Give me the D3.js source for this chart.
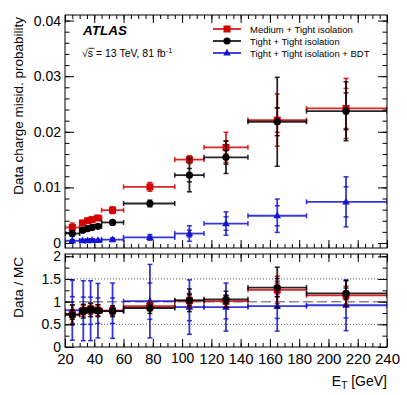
<!DOCTYPE html>
<html>
<head>
<meta charset="utf-8">
<script src="https://cdn.jsdelivr.net/npm/d3@7"></script>
<style>
  body { margin: 0; background: #fff; }
  svg { font-family: "Liberation Sans", Arial, sans-serif; display: block; }
</style>
</head>
<body>
<div id="chart"></div>
<script>
// ---- data ----
var mainEdges   = [20, 30, 34, 37, 40, 45, 60, 95, 115, 145, 185, 240];
var mainCenters = [25, 32, 35.5, 38.5, 42.5, 52.5, 78, 105, 130, 165, 212];

var medTight      = [0.0028, 0.0036, 0.0040, 0.0042, 0.0045, 0.0059, 0.0101, 0.0150, 0.0172, 0.0221, 0.0242];
var medTightStat  = [0.0004, 0.0002, 0.0002, 0.0002, 0.0002, 0.0003, 0.0004, 0.0004, 0.0012, 0.0022, 0.0036];
var medTightTot   = [0.0008, 0.0004, 0.0004, 0.0004, 0.0004, 0.0006, 0.0008, 0.0007, 0.0027, 0.0047, 0.0054];

var tightTight     = [0.0017, 0.0023, 0.0026, 0.0028, 0.0030, 0.0037, 0.0071, 0.0122, 0.0154, 0.0218, 0.0237];
var tightTightStat = [0.0002, 0.0001, 0.0001, 0.0001, 0.0001, 0.0002, 0.0003, 0.0012, 0.0012, 0.0025, 0.0033];
var tightTightTot  = [0.0005, 0.0003, 0.0003, 0.0003, 0.0003, 0.0004, 0.0006, 0.0030, 0.0029, 0.0080, 0.0053];

var tightBdt     = [0.0004, 0.0004, 0.0004, 0.00045, 0.00045, 0.0006, 0.0010, 0.0017, 0.0035, 0.0049, 0.0074];
var tightBdtStat = [0.0001, 0.0001, 0.0001, 0.0001, 0.0001, 0.0002, 0.0002, 0.0006, 0.0012, 0.0018, 0.0027];
var tightBdtTot  = [0.0002, 0.0002, 0.0002, 0.0002, 0.0002, 0.0003, 0.0005, 0.0014, 0.0021, 0.0030, 0.0045];

var ratioEdges   = [20, 30, 35, 40, 45, 60, 95, 115, 145, 185, 240];
var ratioCenters = [25, 32.5, 37.5, 42.5, 52.5, 78, 105, 130, 165, 212];

var ratioMed      = [0.72, 0.80, 0.84, 0.81, 0.80, 0.90, 1.02, 1.01, 1.26, 1.14];
var ratioMedStat  = [0.10, 0.07, 0.07, 0.07, 0.06, 0.06, 0.08, 0.07, 0.15, 0.10];
var ratioMedTot   = [0.20, 0.12, 0.12, 0.12, 0.10, 0.10, 0.15, 0.12, 0.30, 0.20];

var ratioTight     = [0.71, 0.79, 0.82, 0.80, 0.79, 0.86, 1.03, 1.05, 1.31, 1.18];
var ratioTightStat = [0.10, 0.07, 0.07, 0.06, 0.06, 0.06, 0.12, 0.09, 0.20, 0.12];
var ratioTightTot  = [0.22, 0.15, 0.15, 0.13, 0.12, 0.12, 0.25, 0.18, 0.45, 0.28];

var ratioBdt     = [0.81, 0.80, 0.80, 0.80, 0.80, 1.01, 0.88, 0.88, 0.90, 0.92];
var ratioBdtStat = [0.30, 0.30, 0.30, 0.28, 0.28, 0.40, 0.30, 0.26, 0.27, 0.28];
var ratioBdtTot  = [0.66, 0.66, 0.66, 0.60, 0.61, 0.81, 0.60, 0.53, 0.55, 0.56];

var legendLabels = ['Medium + Tight isolation', 'Tight + Tight isolation', 'Tight + Tight isolation + BDT'];

var RED = '#d40000', BLACK = '#000000', BLUE = '#1414d2';

// ---- layout ----
var W = 407, H = 395;
var left = 65, right = 387;
var mainTop = 15, mainBottom = 248;
var ratioTop = 254, ratioBottom = 347;

var svg = d3.select('#chart').append('svg')
    .attr('width', W)
    .attr('height', H);

var x = d3.scaleLinear().domain([20, 240]).range([left, right]);
var yMain = d3.scaleLinear().domain([-0.0009, 0.041]).range([mainBottom, mainTop]);
var yRatio = d3.scaleLinear().domain([0, 2.05]).range([ratioBottom, ratioTop]);

svg.append('clipPath').attr('id', 'clipMain').append('rect')
    .attr('x', left).attr('y', mainTop).attr('width', right - left).attr('height', mainBottom - mainTop);
svg.append('clipPath').attr('id', 'clipRatio').append('rect')
    .attr('x', left).attr('y', ratioTop).attr('width', right - left).attr('height', ratioBottom - ratioTop);

// inward ticks on all four sides, ROOT-like
function drawTicks(yScale, top, bottom, majorY, minorY, yFmt, xLabels) {
    var g = svg.append('g').attr('class', 'ticks');
    var xMaj = d3.range(20, 241, 20), xMin = d3.range(20, 241, 5);

    var bx = g.append('g').attr('transform', 'translate(0,' + bottom + ')')
        .call(d3.axisBottom(x).tickValues(xMaj).tickSize(-8).tickPadding(6)
            .tickFormat(xLabels ? d3.format('d') : ''));
    g.append('g').attr('transform', 'translate(0,' + bottom + ')')
        .call(d3.axisBottom(x).tickValues(xMin).tickSize(-4).tickFormat(''));
    g.append('g').attr('transform', 'translate(0,' + top + ')')
        .call(d3.axisTop(x).tickValues(xMaj).tickSize(-8).tickFormat(''));
    g.append('g').attr('transform', 'translate(0,' + top + ')')
        .call(d3.axisTop(x).tickValues(xMin).tickSize(-4).tickFormat(''));

    g.append('g').attr('transform', 'translate(' + left + ',0)')
        .call(d3.axisLeft(yScale).tickValues(majorY).tickSize(-9).tickPadding(4).tickFormat(yFmt));
    g.append('g').attr('transform', 'translate(' + left + ',0)')
        .call(d3.axisLeft(yScale).tickValues(minorY).tickSize(-4.5).tickFormat(''));
    g.append('g').attr('transform', 'translate(' + right + ',0)')
        .call(d3.axisRight(yScale).tickValues(majorY).tickSize(-9).tickFormat(''));
    g.append('g').attr('transform', 'translate(' + right + ',0)')
        .call(d3.axisRight(yScale).tickValues(minorY).tickSize(-4.5).tickFormat(''));

    g.selectAll('.domain').remove();
    g.selectAll('line').attr('stroke', '#000').attr('stroke-width', 1);
    g.selectAll('text').attr('fill', '#000').style('font-family', '"Liberation Sans", Arial, sans-serif');
    bx.selectAll('text').style('font-size', '15px');
    return g;
}

var mainT = drawTicks(yMain, mainTop, mainBottom,
    [0, 0.01, 0.02, 0.03, 0.04], d3.range(0, 0.0405, 0.002),
    function(d) { return d === 0 ? '0' : d.toFixed(2); }, false);
mainT.selectAll('text').style('font-size', '14px');

// ratio reference lines
svg.append('g').selectAll('line')
    .data([0.5, 1.5])
    .enter().append('line')
    .attr('x1', left).attr('x2', right)
    .attr('y1', function(d) { return yRatio(d); })
    .attr('y2', function(d) { return yRatio(d); })
    .attr('stroke', '#555').attr('stroke-width', 1).attr('stroke-dasharray', '1,2');
svg.append('line')
    .attr('x1', left).attr('x2', right)
    .attr('y1', yRatio(1)).attr('y2', yRatio(1))
    .attr('stroke', '#888').attr('stroke-width', 1.5).attr('stroke-dasharray', '10,4');

var ratioT = drawTicks(yRatio, ratioTop, ratioBottom,
    [0, 0.5, 1, 1.5, 2], d3.range(0, 2.01, 0.25), d3.format(''), true);
ratioT.selectAll('g:nth-child(5) text').style('font-size', '14px');

// ---- markers ----
function marker(sel, kind, color) {
    if (kind === 'square') {
        sel.append('rect').attr('x', -3.5).attr('y', -3.5).attr('width', 7).attr('height', 7).attr('fill', color);
    } else if (kind === 'circle') {
        sel.append('circle').attr('r', 3.6).attr('fill', color);
    } else {
        sel.append('path').attr('d', 'M0,-4.2L3.8,2.6L-3.8,2.6Z').attr('fill', color);
    }
}

function drawSeries(yScale, clip, edges, centers, vals, stat, tot, color, kind) {
    var g = svg.append('g').attr('clip-path', 'url(#' + clip + ')');
    var pts = vals.map(function(v, i) {
        return { lo: edges[i], hi: edges[i + 1], c: centers[i], v: v, s: stat[i], t: tot[i] };
    });
    var p = g.selectAll('g.pt').data(pts).enter().append('g').attr('class', 'pt');
    var op = 0.85;
    // horizontal bin bar with end caps
    p.append('line')
        .attr('x1', function(d) { return x(d.lo); }).attr('x2', function(d) { return x(d.hi); })
        .attr('y1', function(d) { return yScale(d.v); }).attr('y2', function(d) { return yScale(d.v); })
        .attr('stroke', color).attr('stroke-width', 1.8).attr('stroke-opacity', op);
    [function(d) { return x(d.lo); }, function(d) { return x(d.hi); }].forEach(function(fx) {
        p.append('line')
            .attr('x1', fx).attr('x2', fx)
            .attr('y1', function(d) { return yScale(d.v) - 2.5; })
            .attr('y2', function(d) { return yScale(d.v) + 2.5; })
            .attr('stroke', color).attr('stroke-width', 1.5).attr('stroke-opacity', op);
    });
    // vertical error bar, total
    p.append('line')
        .attr('x1', function(d) { return x(d.c); }).attr('x2', function(d) { return x(d.c); })
        .attr('y1', function(d) { return yScale(d.v - d.t); })
        .attr('y2', function(d) { return yScale(d.v + d.t); })
        .attr('stroke', color).attr('stroke-width', 1.8).attr('stroke-opacity', op);
    // caps at stat and total ends
    [['s', -1], ['s', 1], ['t', -1], ['t', 1]].forEach(function(c) {
        p.append('line')
            .attr('x1', function(d) { return x(d.c) - 2.5; })
            .attr('x2', function(d) { return x(d.c) + 2.5; })
            .attr('y1', function(d) { return yScale(d.v + c[1] * d[c[0]]); })
            .attr('y2', function(d) { return yScale(d.v + c[1] * d[c[0]]); })
            .attr('stroke', color).attr('stroke-width', 1.5).attr('stroke-opacity', op);
    });
    p.append('g')
        .attr('transform', function(d) { return 'translate(' + x(d.c) + ',' + yScale(d.v) + ')'; })
        .each(function() { marker(d3.select(this), kind, color); });
}

// main panel
drawSeries(yMain, 'clipMain', mainEdges, mainCenters, tightBdt, tightBdtStat, tightBdtTot, BLUE, 'triangle');
drawSeries(yMain, 'clipMain', mainEdges, mainCenters, medTight, medTightStat, medTightTot, RED, 'square');
drawSeries(yMain, 'clipMain', mainEdges, mainCenters, tightTight, tightTightStat, tightTightTot, BLACK, 'circle');

// ratio panel
drawSeries(yRatio, 'clipRatio', ratioEdges, ratioCenters, ratioBdt, ratioBdtStat, ratioBdtTot, BLUE, 'triangle');
drawSeries(yRatio, 'clipRatio', ratioEdges, ratioCenters, ratioMed, ratioMedStat, ratioMedTot, RED, 'square');
drawSeries(yRatio, 'clipRatio', ratioEdges, ratioCenters, ratioTight, ratioTightStat, ratioTightTot, BLACK, 'circle');

// frames
[[mainTop, mainBottom], [ratioTop, ratioBottom]].forEach(function(f) {
    svg.append('rect')
        .attr('x', left).attr('y', f[0]).attr('width', right - left).attr('height', f[1] - f[0])
        .attr('fill', 'none').attr('stroke', '#000').attr('stroke-width', 1);
});

// axis titles
svg.append('text')
    .attr('transform', 'translate(23,' + (mainTop + 2) + ') rotate(-90)')
    .attr('text-anchor', 'end')
    .style('font-size', '13.5px')
    .text('Data charge misid. probability');
svg.append('text')
    .attr('transform', 'translate(23,' + (ratioTop + 3) + ') rotate(-90)')
    .attr('text-anchor', 'end')
    .style('font-size', '13.5px')
    .text('Data / MC');

var xt = svg.append('text')
    .attr('x', right).attr('y', 386)
    .attr('text-anchor', 'end')
    .style('font-size', '14px');
xt.append('tspan').text('E');
xt.append('tspan').attr('dy', 3).style('font-size', '10px').text('T');
xt.append('tspan').attr('dy', -3).text(' [GeV]');

// ATLAS label
svg.append('text')
    .attr('x', 83).attr('y', 35)
    .style('font-size', '13.5px').style('font-weight', 'bold').style('font-style', 'italic')
    .text('ATLAS');
var lumi = svg.append('text')
    .attr('x', 82).attr('y', 57)
    .style('font-size', '10.5px');
lumi.append('tspan').text('\u221As = 13 TeV, 81 fb');
lumi.append('tspan').attr('dy', -4).style('font-size', '7.5px').text('-1');
svg.append('line')
    .attr('x1', 88.5).attr('x2', 94.5).attr('y1', 48.3).attr('y2', 48.3)
    .attr('stroke', '#000').attr('stroke-width', 0.8);

// legend
var legKinds = ['square', 'circle', 'triangle'];
var legColors = [RED, BLACK, BLUE];
var leg = svg.append('g').selectAll('g')
    .data(legendLabels)
    .enter().append('g')
    .attr('transform', function(d, i) { return 'translate(227,' + (29 + i * 12) + ')'; });
leg.append('line')
    .attr('x1', -14).attr('x2', 14)
    .attr('stroke', function(d, i) { return legColors[i]; })
    .attr('stroke-width', 1.6);
leg.each(function(d, i) { marker(d3.select(this), legKinds[i], legColors[i]); });
leg.append('text')
    .attr('x', 23).attr('y', 3.5)
    .style('font-size', '9.5px')
    .text(function(d) { return d; });
</script>
</body>
</html>
